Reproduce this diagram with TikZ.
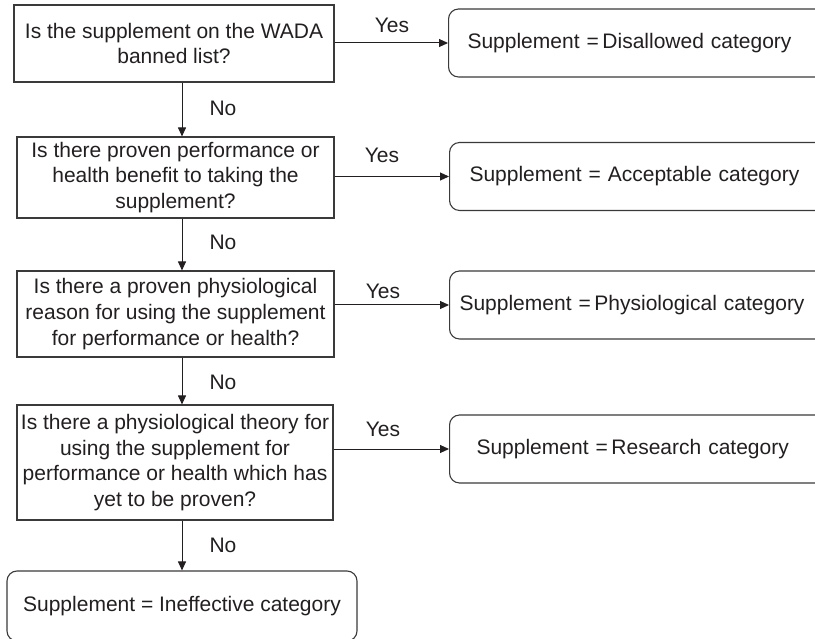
\documentclass[tikz,border=0pt]{standalone}
\usepackage{fontspec}
\setmainfont{Liberation Sans}
\usetikzlibrary{arrows.meta}
\definecolor{ink}{HTML}{231F20}
\definecolor{edge}{HTML}{3A3A3A}
\begin{document}
\begin{tikzpicture}[x=1pt,y=-1pt,
  every node/.style={font=\fontsize{21}{25.8}\selectfont, text=ink},
  qbox/.style={draw=edge, line width=1.1pt, rectangle, align=center, inner sep=0pt},
  rbox/.style={draw=edge, line width=1.1pt, rounded corners=10pt, anchor=west, minimum width=400pt, minimum height=68pt, text width=400pt, align=left, inner ysep=0pt},
  arr/.style={draw=ink, line width=1pt, -{Triangle[length=9pt,width=8pt]}},
  lbl/.style={inner sep=0pt}
]
\useasboundingbox (0,0) rectangle (815,639);
\clip (0,0) rectangle (815,639);
% question boxes
\node[qbox, minimum width=320pt, minimum height=77pt] (q1) at (174,43.5) {Is the supplement on the WADA\\banned list?};
\node[qbox, minimum width=317pt, minimum height=81pt] (q2) at (175.5,177.5) {Is there proven performance or\\health benefit to taking the\\supplement?};
\node[qbox, minimum width=317pt, minimum height=86pt] (q3) at (175.5,314) {Is there a proven physiological\\reason for using the supplement\\for performance or health?};
\node[qbox, minimum width=316pt, minimum height=115pt] (q4) at (175,462.5) {Is there a physiological theory for\\using the supplement for\\performance or health which has\\yet to be proven?};
% result boxes
\node[rbox, inner xsep=0pt] (r1) at (448,43) {\hspace*{19pt}Supplement =\hspace{0.17em}Disallowed category};
\node[rbox, inner xsep=0pt] (r2) at (449,176.5) {\hspace*{20pt}Supplement = Acceptable category};
\node[rbox, inner xsep=0pt] (r3) at (449,305) {\hspace*{10pt}Supplement =\hspace{0.17em}Physiological category};
\node[rbox, inner xsep=0pt] (r4) at (449,449) {\hspace*{27pt}Supplement =\hspace{0.17em}Research category};
\node[draw=edge, line width=1.1pt, rounded corners=10pt, minimum width=350pt, minimum height=70pt, inner sep=0pt] (bot) at (182,606) {Supplement = Ineffective category};
% yes arrows
\draw[arr] (r1.west -| q1.east) -- (r1.west);
\draw[arr] (r2.west -| q2.east) -- (r2.west);
\draw[arr] (r3.west -| q3.east) -- (r3.west);
\draw[arr] (r4.west -| q4.east) -- (r4.west);
% no arrows
\draw[arr] (q1.south -| bot.north) -- (q2.north -| bot.north);
\draw[arr] (q2.south -| bot.north) -- (q3.north -| bot.north);
\draw[arr] (q3.south -| bot.north) -- (q4.north -| bot.north);
\draw[arr] (q4.south -| bot.north) -- (bot.north);
% labels
\node[lbl] (y1) at (392,25) {Yes};
\node[lbl] (y2) at (382,155) {Yes};
\node[lbl] (y3) at (383,291) {Yes};
\node[lbl] (y4) at (383,429) {Yes};
\node[lbl] (n1) at (223,108) {No};
\node[lbl] (n2) at (223,242) {No};
\node[lbl] (n3) at (223,382) {No};
\node[lbl] (n4) at (223,545) {No};
\end{tikzpicture}
\end{document}
